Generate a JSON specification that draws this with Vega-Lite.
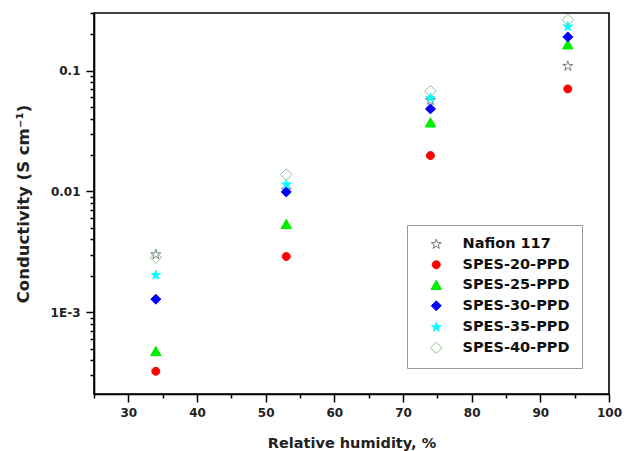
{
  "$schema": "https://vega.github.io/schema/vega-lite/v6.json",
  "width": 515,
  "height": 381,
  "autosize": "none",
  "padding": {"left": 94, "top": 13, "right": 15, "bottom": 57},
  "background": "white",
  "config": {
    "view": {"stroke": "black", "strokeWidth": 1.6},
    "font": "DejaVu Sans",
    "axis": {"labelFont": "DejaVu Sans", "titleFont": "DejaVu Sans"}
  },
  "data": {
    "values": [
      {"rh": 34, "sigma": 0.0030, "sample": "Nafion 117"},
      {"rh": 53, "sigma": 0.0103, "sample": "Nafion 117"},
      {"rh": 74, "sigma": 0.0568, "sample": "Nafion 117"},
      {"rh": 94, "sigma": 0.109, "sample": "Nafion 117"},
      {"rh": 34, "sigma": 0.000324, "sample": "SPES-20-PPD"},
      {"rh": 53, "sigma": 0.00289, "sample": "SPES-20-PPD"},
      {"rh": 74, "sigma": 0.0198, "sample": "SPES-20-PPD"},
      {"rh": 94, "sigma": 0.0706, "sample": "SPES-20-PPD"},
      {"rh": 34, "sigma": 0.000473, "sample": "SPES-25-PPD"},
      {"rh": 53, "sigma": 0.00534, "sample": "SPES-25-PPD"},
      {"rh": 74, "sigma": 0.037, "sample": "SPES-25-PPD"},
      {"rh": 94, "sigma": 0.164, "sample": "SPES-25-PPD"},
      {"rh": 34, "sigma": 0.00128, "sample": "SPES-30-PPD"},
      {"rh": 53, "sigma": 0.0099, "sample": "SPES-30-PPD"},
      {"rh": 74, "sigma": 0.0482, "sample": "SPES-30-PPD"},
      {"rh": 94, "sigma": 0.19, "sample": "SPES-30-PPD"},
      {"rh": 34, "sigma": 0.00203, "sample": "SPES-35-PPD"},
      {"rh": 53, "sigma": 0.0114, "sample": "SPES-35-PPD"},
      {"rh": 74, "sigma": 0.0594, "sample": "SPES-35-PPD"},
      {"rh": 94, "sigma": 0.232, "sample": "SPES-35-PPD"},
      {"rh": 34, "sigma": 0.00283, "sample": "SPES-40-PPD"},
      {"rh": 53, "sigma": 0.0138, "sample": "SPES-40-PPD"},
      {"rh": 74, "sigma": 0.0675, "sample": "SPES-40-PPD"},
      {"rh": 94, "sigma": 0.264, "sample": "SPES-40-PPD"}
    ]
  },
  "mark": {"type": "point", "strokeWidth": 1, "opacity": 1, "size": 100},
  "encoding": {
    "x": {
      "field": "rh", "type": "quantitative",
      "scale": {"domain": [25, 100], "nice": false, "zero": false},
      "axis": {
        "title": "Relative humidity, %",
        "values": [25, 30, 35, 40, 45, 50, 55, 60, 65, 70, 75, 80, 85, 90, 95, 100],
        "labelExpr": "datum.value % 10 == 0 ? datum.value : ''",
        "grid": false,
        "domainColor": "black", "domainWidth": 1.6,
        "tickColor": "black", "tickWidth": 1.5,
        "tickSize": {"condition": {"test": "datum.value % 10 == 0", "value": 8}, "value": 4},
        "labelFontSize": 12, "labelFontWeight": "bold", "labelColor": "#222",
        "labelPadding": 5, "labelFlush": false, "labelOverlap": false,
        "titleFontSize": 14.5, "titleFontWeight": "bold", "titleColor": "#222",
        "titlePadding": 18
      }
    },
    "y": {
      "field": "sigma", "type": "quantitative",
      "scale": {"type": "log", "domain": [0.00021, 0.3], "nice": false},
      "axis": {
        "title": "Conductivity (S cm⁻¹)",
        "values": [0.0003, 0.0004, 0.0005, 0.0006, 0.0007, 0.0008, 0.0009, 0.001, 0.002, 0.003, 0.004, 0.005, 0.006, 0.007, 0.008, 0.009, 0.01, 0.02, 0.03, 0.04, 0.05, 0.06, 0.07, 0.08, 0.09, 0.1, 0.2, 0.3],
        "labelExpr": "abs(datum.value-0.1)<1e-9 ? '0.1' : abs(datum.value-0.01)<1e-10 ? '0.01' : abs(datum.value-0.001)<1e-11 ? '1E-3' : ''",
        "grid": false,
        "domainColor": "black", "domainWidth": 1.6,
        "tickColor": "black", "tickWidth": 1.5,
        "tickSize": {"condition": {"test": "abs(datum.value-0.1)<1e-9 || abs(datum.value-0.01)<1e-10 || abs(datum.value-0.001)<1e-11", "value": 8}, "value": 4},
        "labelFontSize": 12, "labelFontWeight": "bold", "labelColor": "#222",
        "labelPadding": 6, "labelFlush": false, "labelOverlap": false,
        "titleFontSize": 16.5, "titleFontWeight": "bold", "titleColor": "#222",
        "titlePadding": 19
      }
    },
    "shape": {
      "field": "sample", "type": "nominal",
      "scale": {
        "domain": ["Nafion 117", "SPES-20-PPD", "SPES-25-PPD", "SPES-30-PPD", "SPES-35-PPD", "SPES-40-PPD"],
        "range": [
          "M0,-1.05L0.236,-0.324L0.999,-0.324L0.381,0.124L0.617,0.849L0,0.401L-0.617,0.849L-0.381,0.124L-0.999,-0.324L-0.236,-0.324Z",
          "M0.8,0A0.8,0.8 0 1,1 -0.8,0A0.8,0.8 0 1,1 0.8,0Z",
          "M0,-1L1.05,0.85L-1.05,0.85Z",
          "M-1,0L0,-1L1,0L0,1Z",
          "M0,-1L0.2245,-0.309L0.951,-0.309L0.363,0.118L0.588,0.809L0,0.382L-0.588,0.809L-0.363,0.118L-0.951,-0.309L-0.2245,-0.309Z",
          "M-1.15,0L0,-1.15L1.15,0L0,1.15Z"
        ]
      },
      "legend": {
        "title": null,
        "orient": "none",
        "legendX": 313,
        "legendY": 212,
        "strokeColor": "#999",
        "fillColor": "white",
        "padding": 12,
        "symbolOffset": 10,
        "rowPadding": 5.5,
        "labelOffset": 19,
        "labelFont": "DejaVu Sans",
        "labelFontSize": 14.5,
        "labelFontWeight": "bold",
        "labelColor": "#111",
        "symbolSize": 100,
        "symbolStrokeWidth": 1,
        "labelLimit": 300
      }
    },
    "fill": {
      "field": "sample", "type": "nominal",
      "scale": {
        "domain": ["Nafion 117", "SPES-20-PPD", "SPES-25-PPD", "SPES-30-PPD", "SPES-35-PPD", "SPES-40-PPD"],
        "range": ["transparent", "#ff0000", "#00ee00", "#0000ff", "#00ffff", "transparent"]
      },
      "legend": {"title": null, "orient": "none", "legendX": 313, "legendY": 212}
    },
    "stroke": {
      "field": "sample", "type": "nominal",
      "scale": {
        "domain": ["Nafion 117", "SPES-20-PPD", "SPES-25-PPD", "SPES-30-PPD", "SPES-35-PPD", "SPES-40-PPD"],
        "range": ["#7a7a7a", "#ff0000", "#00ee00", "#0000ff", "#00ffff", "#8cc88c"]
      },
      "legend": {"title": null, "orient": "none", "legendX": 313, "legendY": 212}
    }
  }
}
